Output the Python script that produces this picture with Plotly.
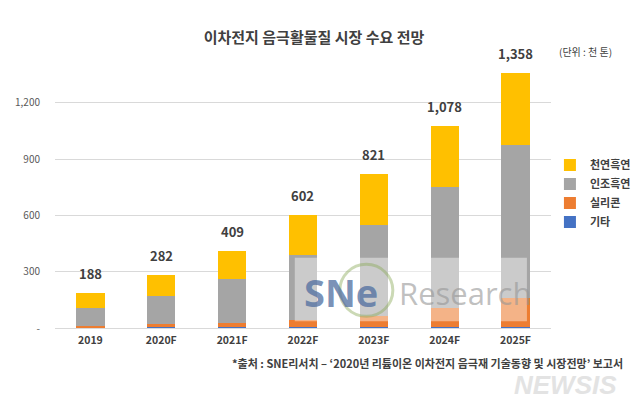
import plotly.graph_objects as go

categories = ["2019", "2020F", "2021F", "2022F", "2023F", "2024F", "2025F"]
etc_vals = [2, 3, 3, 4, 5, 6, 8]            # 기타
silicon_vals = [8, 18, 26, 37, 59, 101, 152]  # 실리콘
artificial_vals = [99, 148, 231, 350, 483, 643, 817]  # 인조흑연
natural_vals = [79, 113, 149, 211, 274, 328, 381]     # 천연흑연
totals = [188, 282, 409, 602, 821, 1078, 1358]

y_tickvals = [0, 300, 600, 900, 1200]
y_ticktext = ["-", "300", "600", "900", "1,200"]

FONT = "Noto Sans CJK KR"
W, H = 640, 410
L, R, T, B = 55.4, 551.0, 55.5, 327.7
MR = 0  # right margin; paper area runs to the figure edge
PW = W - MR - L  # paper width in px

def px_x(px):
    return (px - L) / PW

def px_y(py):
    return (B - py) / (B - T)

series = [
    ("기타", etc_vals, "#4472C4"),
    ("실리콘", silicon_vals, "#ED7D31"),
    ("인조흑연", artificial_vals, "#A5A5A5"),
    ("천연흑연", natural_vals, "#FFC000"),
]

fig = go.Figure()
for name, vals, color in series:
    fig.add_trace(go.Bar(
        x=categories, y=vals, name=name,
        marker=dict(color=color, line=dict(width=0)),
        hoverinfo="skip",
    ))

for i, t in enumerate(totals):
    fig.add_annotation(
        x=i, y=t, xref="x", yref="y", text=f"<b>{t:,}</b>",
        showarrow=False, yanchor="bottom", yshift=8,
        font=dict(family=FONT, size=13, color="#404040"),
    )

# SNE Research watermark
fig.add_shape(type="rect", xref="paper", yref="paper",
              x0=px_x(295), x1=px_x(527), y0=px_y(321), y1=px_y(257.5),
              fillcolor="rgba(255,255,255,0.42)", line=dict(width=0), layer="above")
fig.add_shape(type="circle", xref="paper", yref="paper",
              x0=px_x(340), x1=px_x(393), y0=px_y(316), y1=px_y(264),
              fillcolor="rgba(0,0,0,0)", line=dict(width=3, color="rgba(140,170,90,0.45)"),
              layer="above")
fig.add_annotation(xref="paper", yref="paper", x=px_x(302), y=px_y(292),
                   text="<b>SNe</b>", showarrow=False, xanchor="left", yanchor="middle",
                   font=dict(family="Open Sans", size=38, color="rgba(80,110,160,0.75)"))
fig.add_annotation(xref="paper", yref="paper", x=px_x(397), y=px_y(293),
                   text="Research", showarrow=False, xanchor="left", yanchor="middle",
                   font=dict(family="Open Sans", size=31, color="rgba(150,150,150,0.6)"))

# unit label
fig.add_annotation(xref="paper", yref="paper", x=px_x(614), y=px_y(50.5),
                   text="(단위 : 천 톤)", showarrow=False, xanchor="right", yanchor="middle",
                   font=dict(family=FONT, size=10, color="#404040"))

# source footnote
fig.add_annotation(xref="paper", yref="paper", x=px_x(625), y=px_y(363),
                   text="<b>*출처 : SNE리서치 – ‘2020년 리튬이온 이차전지 음극재 기술동향 및 시장전망’ 보고서</b>",
                   showarrow=False, xanchor="right", yanchor="middle",
                   font=dict(family=FONT, size=11, color="#404040"))

# NEWSIS logo text
fig.add_annotation(xref="paper", yref="paper", x=px_x(619), y=px_y(385),
                   text="<b>NEWSIS</b>", showarrow=False, xanchor="right", yanchor="middle",
                   font=dict(family="Liberation Sans", size=26, color="#e3e3e3", style="italic"))

fig.update_layout(
    width=W, height=H,
    margin=dict(l=L, r=MR, t=T, b=H - B, pad=0),
    paper_bgcolor="white", plot_bgcolor="white",
    barmode="stack", bargap=0.6,
    title=dict(text="<b>이차전지 음극활물질 시장 수요 전망</b>", x=314 / W, xanchor="center",
               y=1 - 38 / H, yanchor="middle", yref="container",
               font=dict(family=FONT, size=15, color="#404040")),
    font=dict(family=FONT, color="#595959"),
    showlegend=True,
    legend=dict(x=px_x(550), y=px_y(193),
                xanchor="left", yanchor="middle",
                traceorder="reversed",
                font=dict(family=FONT, size=11, color="#404040", weight="bold"),
                itemwidth=30, tracegroupgap=0, bgcolor="rgba(0,0,0,0)"),
    xaxis=dict(type="category", range=[-0.5, len(categories) - 0.5],
               domain=[0, (R - L) / PW],
               showgrid=False, showline=False, ticks="", zeroline=False,
               tickfont=dict(family=FONT, size=10.5, color="#404040", weight="bold"),
               ticklabelstandoff=4),
    yaxis=dict(range=[0, 1450], tickvals=y_tickvals, ticktext=y_ticktext,
               showgrid=True, gridcolor="#D9D9D9", gridwidth=1,
               zeroline=True, zerolinecolor="#D9D9D9", zerolinewidth=1,
               showline=False, ticks="", ticklabelstandoff=14,
               tickfont=dict(family=FONT, size=10, color="#595959")),
)

fig.write_html("out.html", config={"displayModeBar": False},
               post_script="document.body.style.margin='0px';")
